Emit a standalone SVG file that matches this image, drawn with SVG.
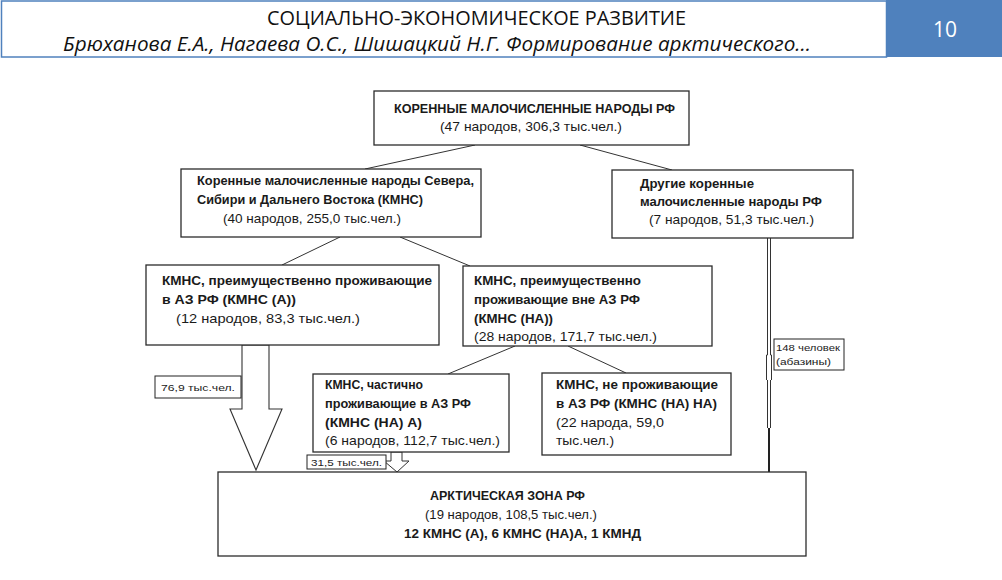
<svg xmlns="http://www.w3.org/2000/svg" width="1002" height="580" viewBox="0 0 1002 580">
<style>
.box{fill:#fff;stroke:#2b2b2b;stroke-width:1.3}
.ln{stroke:#333;stroke-width:1;fill:none}
.t{font-family:"Liberation Sans",Arial,sans-serif;font-size:13.5px;fill:#1a1a1a}
.b{font-weight:bold}
.s{font-family:"Liberation Sans",Arial,sans-serif;font-size:9.5px;fill:#222}
.hd{font-family:"Open Sans","Liberation Sans",sans-serif;fill:#111}
</style>
<rect width="1002" height="580" fill="#fff"/>
<g id="header">
<rect x="1.5" y="1" width="885" height="56" fill="#fff" stroke="#4f81bd" stroke-width="1.5"/>
<rect x="886" y="0" width="116" height="57" fill="#4f81bd"/>
<text class="hd" x="267" y="25" font-size="20" textLength="419" lengthAdjust="spacingAndGlyphs">СОЦИАЛЬНО-ЭКОНОМИЧЕСКОЕ РАЗВИТИЕ</text>
<text class="hd" x="63" y="51" font-size="20" font-style="italic" textLength="748" lengthAdjust="spacingAndGlyphs">Брюханова Е.А., Нагаева О.С., Шишацкий Н.Г. Формирование арктического…</text>
<text x="945" y="37" font-family="Open Sans,Liberation Sans,sans-serif" font-size="21" fill="#fff" text-anchor="middle">10</text>
</g>
<g id="connectors">
<line class="ln" x1="475" y1="145" x2="365" y2="169"/>
<line class="ln" x1="580" y1="145" x2="672" y2="170"/>
<line class="ln" x1="340" y1="237" x2="282" y2="265"/>
<line class="ln" x1="400" y1="237" x2="470" y2="266"/>
<line class="ln" x1="515" y1="346" x2="448" y2="374"/>
<line class="ln" x1="568" y1="346" x2="626" y2="373"/>
<polygon points="242,345 269,345 269,409 282,409 256,470 230,409 242,409" fill="#fff" stroke="#333" stroke-width="1.1"/>
<polygon points="391,452 402,452 402,461 409,461 397,472 384,461 391,461" fill="#fff" stroke="#333" stroke-width="1"/>
<path d="M767.5,238 V355 M770.5,238 V355 M767.5,380 V428 M770.5,380 V428 M766.5,355 V380 M771.5,355 V380 M766.5,355 H767.5 M770.5,355 H771.5" class="ln" stroke-width="0.9"/>
<line x1="769" y1="428" x2="769" y2="472" stroke="#222" stroke-width="2"/>
</g>
<g id="n-root">
<rect class="box" x="374" y="91" width="315" height="54"/>
<text class="t b" x="394" y="113" textLength="281" lengthAdjust="spacingAndGlyphs">КОРЕННЫЕ МАЛОЧИСЛЕННЫЕ НАРОДЫ РФ</text>
<text class="t" x="440" y="131" textLength="182" lengthAdjust="spacingAndGlyphs">(47 народов, 306,3  тыс.чел.)</text>
</g>
<g id="n-kmns">
<rect class="box" x="181" y="169" width="300" height="68"/>
<text class="t b" x="197" y="185" textLength="277" lengthAdjust="spacingAndGlyphs">Коренные малочисленные народы Севера,</text>
<text class="t b" x="197" y="204" textLength="226" lengthAdjust="spacingAndGlyphs">Сибири и Дальнего Востока (КМНС)</text>
<text class="t" x="223" y="223" textLength="178" lengthAdjust="spacingAndGlyphs">(40 народов, 255,0 тыс.чел.)</text>
</g>
<g id="n-other">
<rect class="box" x="612" y="170" width="241" height="68"/>
<text class="t b" x="640" y="188" textLength="114" lengthAdjust="spacingAndGlyphs">Другие коренные</text>
<text class="t b" x="640" y="206" textLength="182" lengthAdjust="spacingAndGlyphs">малочисленные народы РФ</text>
<text class="t" x="649" y="224" textLength="165" lengthAdjust="spacingAndGlyphs">(7 народов, 51,3  тыс.чел.)</text>
</g>
<g id="n-kmns-a">
<rect class="box" x="146" y="265" width="293" height="80"/>
<text class="t b" x="162" y="285" textLength="270" lengthAdjust="spacingAndGlyphs">КМНС, преимущественно проживающие</text>
<text class="t b" x="162" y="304" textLength="134" lengthAdjust="spacingAndGlyphs">в АЗ РФ (КМНС (А))</text>
<text class="t" x="176" y="323" textLength="184" lengthAdjust="spacingAndGlyphs">(12 народов, 83,3 тыс.чел.)</text>
</g>
<g id="n-kmns-na">
<rect class="box" x="463" y="266" width="249" height="80"/>
<text class="t b" x="474" y="285" textLength="167" lengthAdjust="spacingAndGlyphs">КМНС, преимущественно</text>
<text class="t b" x="474" y="304" textLength="166" lengthAdjust="spacingAndGlyphs">проживающие вне АЗ РФ</text>
<text class="t b" x="474" y="323" textLength="79" lengthAdjust="spacingAndGlyphs">(КМНС (НА))</text>
<text class="t" x="474" y="341" textLength="183" lengthAdjust="spacingAndGlyphs">(28 народов, 171,7 тыс.чел.)</text>
</g>
<g id="n-kmns-na-a">
<rect class="box" x="313" y="374" width="196" height="78"/>
<text class="t b" x="325" y="389" textLength="98" lengthAdjust="spacingAndGlyphs">КМНС, частично</text>
<text class="t b" x="325" y="408" textLength="146" lengthAdjust="spacingAndGlyphs">проживающие в АЗ РФ</text>
<text class="t b" x="325" y="427" textLength="97" lengthAdjust="spacingAndGlyphs">(КМНС (НА) А)</text>
<text class="t" x="325" y="445" textLength="175" lengthAdjust="spacingAndGlyphs">(6 народов, 112,7 тыс.чел.)</text>
</g>
<g id="n-kmns-na-na">
<rect class="box" x="542" y="373" width="189" height="82"/>
<text class="t b" x="556" y="389" textLength="162" lengthAdjust="spacingAndGlyphs">КМНС, не проживающие</text>
<text class="t b" x="556" y="408" textLength="161" lengthAdjust="spacingAndGlyphs">в АЗ РФ (КМНС (НА) НА)</text>
<text class="t" x="556" y="427" textLength="108" lengthAdjust="spacingAndGlyphs">(22 народа, 59,0</text>
<text class="t" x="556" y="445" textLength="58" lengthAdjust="spacingAndGlyphs">тыс.чел.)</text>
</g>
<g id="lbl-769">
<rect x="155" y="376" width="86" height="22" fill="#fff" stroke="#222" stroke-width="1"/>
<text class="s" x="161" y="391" textLength="74" lengthAdjust="spacingAndGlyphs">76,9 тыс.чел.</text>
</g>
<g id="lbl-315">
<rect x="307" y="455" width="79" height="14" fill="#fff" stroke="#222" stroke-width="1"/>
<text class="s" x="311" y="466" textLength="71" lengthAdjust="spacingAndGlyphs">31,5 тыс.чел.</text>
</g>
<g id="lbl-148">
<rect x="774" y="339" width="70" height="31" fill="#fff" stroke="#222" stroke-width="1"/>
<text class="s" x="776" y="351" textLength="64" lengthAdjust="spacingAndGlyphs">148 человек</text>
<text class="s" x="776" y="365" textLength="55" lengthAdjust="spacingAndGlyphs">(абазины)</text>
</g>
<g id="n-arctic">
<rect class="box" x="218" y="472" width="588" height="84"/>
<text class="t b" x="430" y="500" textLength="155" lengthAdjust="spacingAndGlyphs">АРКТИЧЕСКАЯ ЗОНА РФ</text>
<text class="t" x="425" y="519" textLength="172" lengthAdjust="spacingAndGlyphs">(19 народов, 108,5 тыс.чел.)</text>
<text class="t b" x="404" y="538" textLength="237" lengthAdjust="spacingAndGlyphs">12 КМНС (А), 6 КМНС (НА)А, 1 КМНД</text>
</g>
</svg>
